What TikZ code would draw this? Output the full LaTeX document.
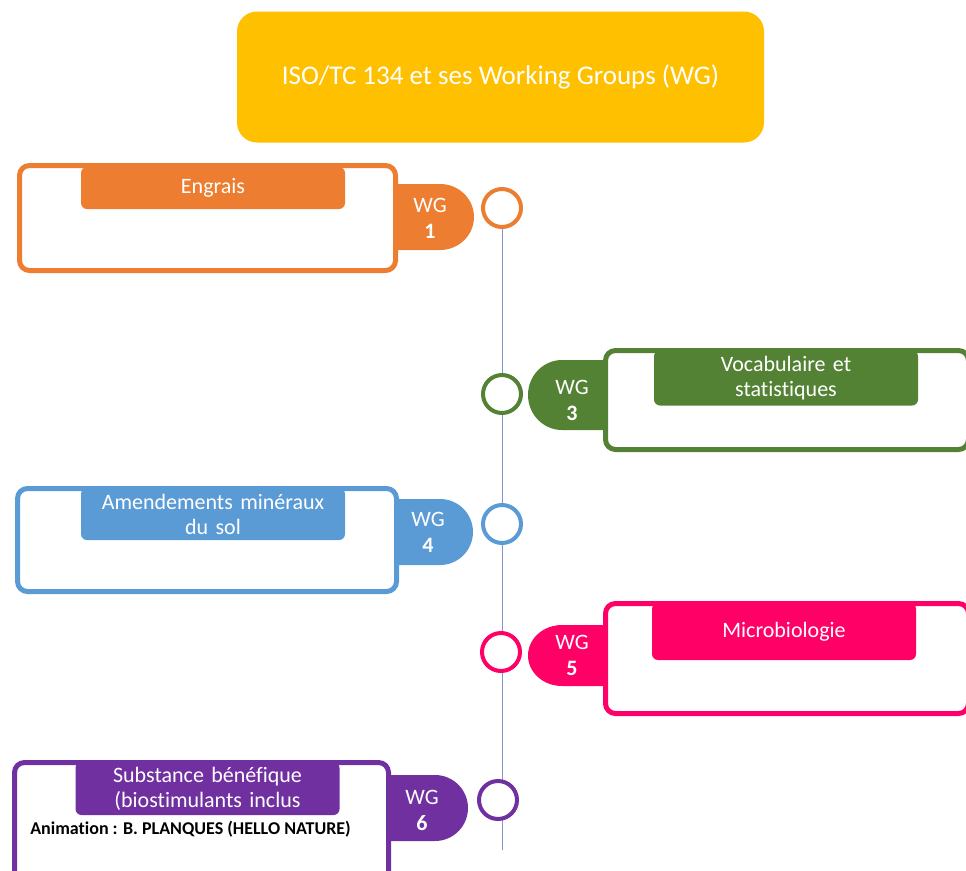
\documentclass[tikz,border=0pt]{standalone}
\usepackage{fontspec}
\setmainfont{Carlito}[Ligatures=NoCommon]
\usetikzlibrary{backgrounds}

\definecolor{tcgold}{HTML}{FFC000}
\definecolor{wgorange}{HTML}{ED7D31}
\definecolor{wggreen}{HTML}{548235}
\definecolor{wgblue}{HTML}{5B9BD5}
\definecolor{wgpink}{HTML}{FF0066}
\definecolor{wgpurple}{HTML}{7030A0}
\definecolor{linecol}{HTML}{8595D0}

\begin{document}
\begin{tikzpicture}[
    x=1pt, y=-1pt,
    title/.style={rectangle, rounded corners=20pt, fill=tcgold, text=white, minimum width=527pt, minimum height=131pt, font=\fontsize{27}{32}\selectfont},
    frame/.style={rectangle, rounded corners=10pt, draw=#1, line width=5pt, fill=white, inner sep=0pt},
    header/.style={rectangle, rounded corners=6pt, fill=#1, text=white, minimum width=264pt, text width=256pt, align=center, inner sep=0pt, font=\fontsize{22}{25}\selectfont},
    wgtext/.style={text=white, align=center, inner sep=0pt, font=\fontsize{22}{26}\selectfont},
    dot/.style={circle, draw=#1, line width=4pt, fill=white, minimum size=38pt, inner sep=0pt},
    timeline/.style={draw=linecol, line width=1pt}
]
\useasboundingbox (0,0) rectangle (966,870);
\clip (0,0) rectangle (966,870);

% Title
\node[title] (title) at (500.5,77) {ISO/TC 134 et ses Working Groups (WG)};

% WG 1
\fill[wgorange] (395,184) -- (440,184) arc[start angle=90, end angle=-90, x radius=34pt, y radius=33pt] -- (395,250) -- cycle;
\node[frame=wgorange, minimum width=376pt, minimum height=105pt] (box1) at (207.5,218) {};
\node[header=wgorange, minimum height=42pt] (head1) at (213,188) {Engrais};
\node[wgtext] (wg1) at (430,218) {WG\\\textbf{1}};
\node[dot=wgorange] (c1) at (502,208) {};

% WG 3
\fill[wggreen] (606,360) -- (562,360) arc[start angle=90, end angle=270, x radius=34pt, y radius=35pt] -- (606,430) -- cycle;
\node[frame=wggreen, minimum width=363pt, minimum height=99pt] (box3) at (787,400) {};
\node[header=wggreen, minimum height=55pt] (head3) at (786,378) {Vocabulaire et\\statistiques};
\node[wgtext] (wg3) at (572,400) {WG\\\textbf{3}};
\node[dot=wggreen] (c3) at (502,394) {};

% WG 4
\fill[wgblue] (396,499) -- (440,499) arc[start angle=90, end angle=-90, x radius=33pt, y radius=33pt] -- (396,565) -- cycle;
\node[frame=wgblue, minimum width=379pt, minimum height=103pt] (box4) at (207,540) {};
\node[header=wgblue, minimum height=52pt] (head4) at (213,514) {Amendements minéraux\\du sol};
\node[wgtext] (wg4) at (428,532) {WG\\\textbf{4}};
\node[dot=wgblue] (c4) at (502,524) {};

% WG 5
\fill[wgpink] (606,625) -- (562,625) arc[start angle=90, end angle=270, x radius=34pt, y radius=30.5pt] -- (606,686) -- cycle;
\node[frame=wgpink, minimum width=363pt, minimum height=110pt] (box5) at (787,658.5) {};
\node[header=wgpink, minimum height=57pt] (head5) at (784,631.5) {Microbiologie};
\node[wgtext] (wg5) at (572,655) {WG\\\textbf{5}};
\node[dot=wgpink] (c5) at (501,652) {};

% WG 6
\fill[wgpurple] (388,775) -- (435,775) arc[start angle=90, end angle=-90, x radius=33pt, y radius=33pt] -- (388,841) -- cycle;
\node[frame=wgpurple, minimum width=374pt, minimum height=120pt] (box6) at (201.5,822.5) {};
\node[header=wgpurple, minimum height=53pt] (head6) at (207.5,788.5) {Substance bénéfique\\(biostimulants inclus};
\node[font=\fontsize{18}{20}\selectfont\bfseries, inner sep=0pt] (anim) at (190.5,829.5) {Animation~: B. PLANQUES (HELLO NATURE)};
\node[wgtext] (wg6) at (422,810) {WG\\\textbf{6}};
\node[dot=wgpurple] (c6) at (498,800) {};

% Timeline
\coordinate (lineend) at (501,850);
\begin{pgfonlayer}{background}
\draw[timeline] (c1.south) -- (c1.south |- lineend);
\end{pgfonlayer}
\end{tikzpicture}
\end{document}
